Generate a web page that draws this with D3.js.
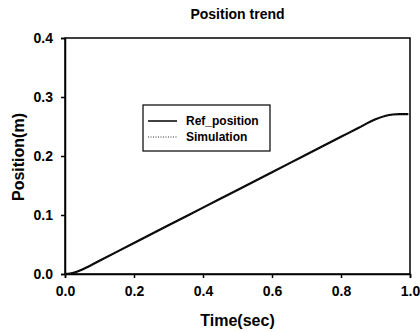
<!DOCTYPE html>
<html><head><meta charset="utf-8">
<script src="https://cdn.jsdelivr.net/npm/d3@7"></script>
<style>body{margin:0;background:#fff}svg{display:block}</style>
</head><body><svg id="c" width="420" height="332"></svg>
<script>
const title = "Position trend";
const xLabel = "Time(sec)";
const yLabel = "Position(m)";
const seriesNames = ["Ref_position", "Simulation"];
const xTicks = [0, 0.2, 0.4, 0.6, 0.8, 1.0];
const yTicks = [0, 0.1, 0.2, 0.3, 0.4];
const time = [0, 0.025, 0.05, 0.1, 0.15, 0.2, 0.3, 0.4, 0.5, 0.6, 0.7, 0.8, 0.85, 0.9, 0.93, 0.95, 0.97, 0.995];
const refPosition = [0, 0.002, 0.0075, 0.0225, 0.0375, 0.0525, 0.0825, 0.1125, 0.1425, 0.1725, 0.2025, 0.2325, 0.2475, 0.2622, 0.2682, 0.2703, 0.2710, 0.2710];
const simulation = [0, 0.0018, 0.0072, 0.0222, 0.0373, 0.0523, 0.0823, 0.1123, 0.1423, 0.1723, 0.2023, 0.2323, 0.2473, 0.2620, 0.2680, 0.2701, 0.2709, 0.2710];

const svg = d3.select("#c");
const m = {l: 65, r: 410, t: 38, b: 274};
const x = d3.scaleLinear().domain([0, 1]).range([m.l, m.r]);
const y = d3.scaleLinear().domain([0, 0.4]).range([m.b, m.t]);
const font = "'Liberation Sans', Arial, sans-serif";

// frame
svg.append("rect").attr("x", m.l).attr("y", m.t).attr("width", m.r - m.l).attr("height", m.b - m.t)
  .attr("fill", "none").attr("stroke", "#000").attr("stroke-width", 1.5);

const xa = svg.append("g").attr("transform", `translate(0,${m.b})`)
  .call(d3.axisBottom(x).tickValues(xTicks).tickFormat(d3.format(".1f")).tickSize(4).tickPadding(8));
const ya = svg.append("g").attr("transform", `translate(${m.l},0)`)
  .call(d3.axisLeft(y).tickValues(yTicks).tickFormat(d3.format(".1f")).tickSize(4).tickPadding(8));
[xa, ya].forEach(g => {
  g.select(".domain").attr("stroke", "#000").attr("stroke-width", 1.5);
  g.selectAll(".tick line").attr("stroke", "#000").attr("stroke-width", 1.5);
  g.selectAll(".tick text").attr("fill", "#000").style("font-family", font)
    .style("font-size", "14px").style("font-weight", "bold");
});

const line = d3.line().x((d, i) => x(time[i])).y(d => y(d)).curve(d3.curveMonotoneX);
svg.append("path").datum(refPosition).attr("d", line)
  .attr("fill", "none").attr("stroke", "#000").attr("stroke-width", 2.2);
svg.append("path").datum(simulation).attr("d", line)
  .attr("fill", "none").attr("stroke", "#333").attr("stroke-width", 1).attr("stroke-dasharray", "1,1.5");

// title & labels
svg.append("text").attr("x", (m.l + m.r) / 2).attr("y", 19).attr("text-anchor", "middle")
  .style("font-family", font).style("font-size", "14px").style("font-weight", "bold").text(title);
svg.append("text").attr("x", (m.l + m.r) / 2).attr("y", 326).attr("text-anchor", "middle")
  .style("font-family", font).style("font-size", "16px").style("font-weight", "bold").text(xLabel);
svg.append("text").attr("transform", `translate(24,157) rotate(-90)`).attr("text-anchor", "middle")
  .style("font-family", font).style("font-size", "16px").style("font-weight", "bold").text(yLabel);

// legend
const lg = svg.append("g");
lg.append("rect").attr("x", 143).attr("y", 105).attr("width", 127).attr("height", 46)
  .attr("fill", "#fff").attr("stroke", "#000").attr("stroke-width", 1.2);
const styles = [{w: 1.5, dash: null, c: "#000"}, {w: 1, dash: "1,1.5", c: "#333"}];
seriesNames.forEach((n, i) => {
  const yy = 121 + i * 16;
  lg.append("line").attr("x1", 148).attr("x2", 177).attr("y1", yy).attr("y2", yy)
    .attr("stroke", styles[i].c).attr("stroke-width", styles[i].w).attr("stroke-dasharray", styles[i].dash);
  lg.append("text").attr("x", 186).attr("y", yy + 4).style("font-family", font)
    .style("font-size", "12px").style("font-weight", "bold").text(n);
});
</script></body></html>
